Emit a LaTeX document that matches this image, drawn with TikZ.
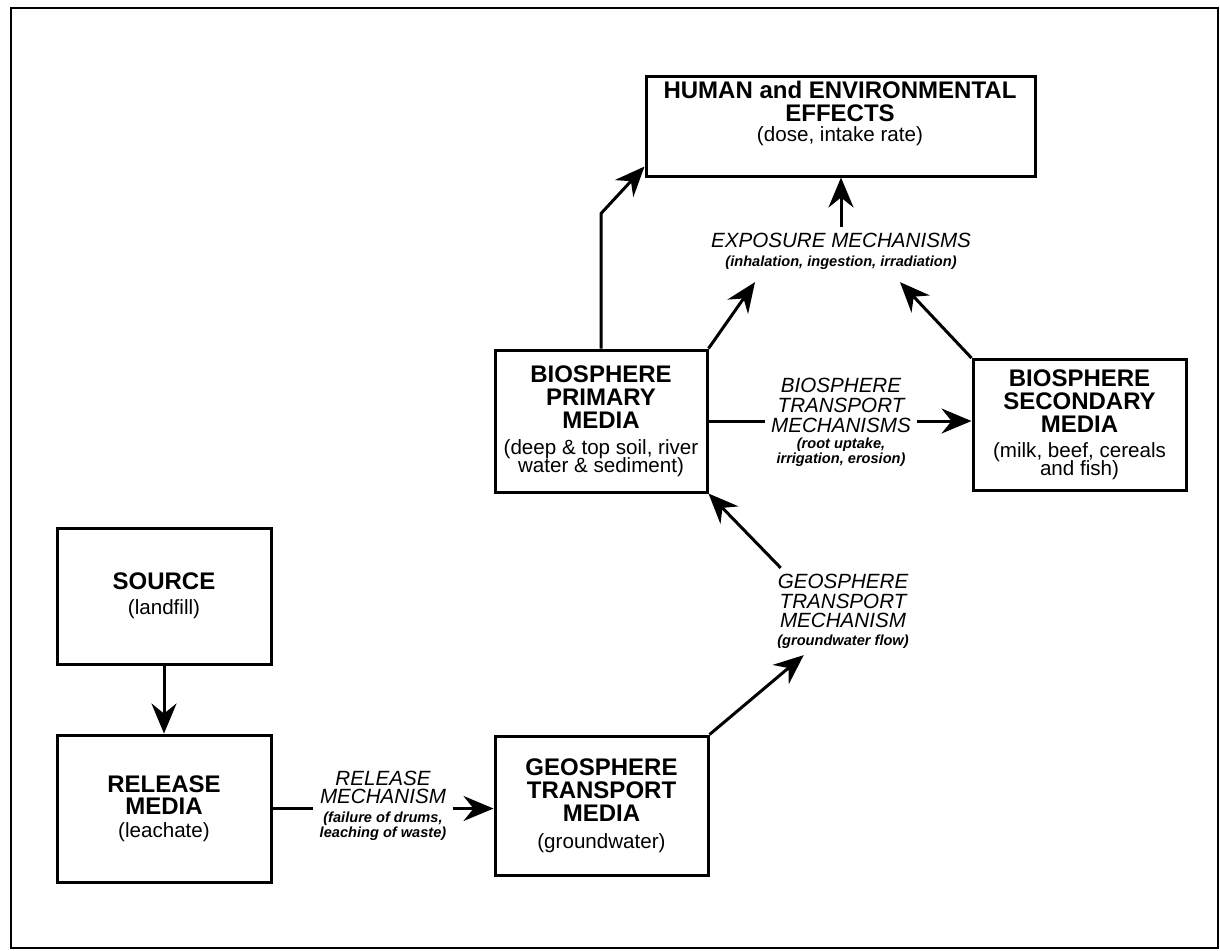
\documentclass[tikz,border=0pt]{standalone}
\usepackage{fontspec}
\setmainfont{Liberation Sans}
\usetikzlibrary{arrows.meta}

\newcommand{\boxfont}{\fontsize{10.3}{9}\selectfont\lineskiplimit=-20pt\relax}
\newcommand{\boxttl}{\fontsize{12}{12}\selectfont\bfseries}
\newcommand{\mechfont}{\fontsize{7.3}{7.5}\selectfont\bfseries\itshape\lineskiplimit=-20pt\relax}
\newcommand{\mechttl}{\fontsize{10.3}{10}\selectfont\mdseries\itshape}

\begin{document}
\begin{tikzpicture}[x=0.5pt,y=-0.5pt,
  pile/.style={line width=1.5pt, -{Stealth[length=15pt,width=12.5pt,inset=5pt]}},
  link/.style={line width=1.5pt},
  media/.style={draw, line width=1.5pt, inner sep=0pt, align=center, font=\boxfont},
  mech/.style={inner sep=3pt, align=center, font=\mechfont}]

	\useasboundingbox (0,0) rectangle (1220,950);

	% Frame
	\draw [line width=1pt] (11,8) rectangle (1218,948);

	% Media
	\node[media, minimum width=194.5pt, minimum height=50pt] (human) at (840.5,126) {};
	\node[inner sep=0pt, align=center, font=\boxfont] (humantxt) at (840,113) {{\boxttl HUMAN and ENVIRONMENTAL}\\[2.5pt]{\boxttl EFFECTS}\\[1pt](dose, intake rate)};
	\node[media, minimum width=106pt, minimum height=71pt] (primary) at (601,421) {{\boxttl BIOSPHERE}\\[2.5pt]{\boxttl PRIMARY}\\[2.5pt]{\boxttl MEDIA}\\[4pt](deep \& top soil, river\\water \& sediment)};
	\node[media, minimum width=106.5pt, minimum height=65.5pt] (secondary) at (1079.5,425) {{\boxttl BIOSPHERE}\\[2.5pt]{\boxttl SECONDARY}\\[2.5pt]{\boxttl MEDIA}\\[3.5pt](milk, beef, cereals\\and fish)};
	\node[media, minimum width=107pt, minimum height=68pt] (source) at (164,596) {{\boxttl SOURCE}\\[3.5pt](landfill)};
	\node[media, minimum width=107pt, minimum height=73.5pt] (release) at (164,808.5) {{\boxttl RELEASE}\\[2pt]{\boxttl MEDIA}\\[2.5pt](leachate)};
	\node[media, minimum width=106.5pt, minimum height=69.5pt] (geomedia) at (601.5,805.5) {{\boxttl GEOSPHERE}\\[2.5pt]{\boxttl TRANSPORT}\\[2.5pt]{\boxttl MEDIA}\\[4.5pt](groundwater)};

	% Mechanisms
	\node[mech] (exposure) at (841,251.5) {{\mechttl EXPOSURE MECHANISMS}\\[2pt](inhalation, ingestion, irradiation)};
	\node[mech] (biotrans) at (841,422.5) {{\mechttl BIOSPHERE}\\[2.5pt]{\mechttl TRANSPORT}\\[2.5pt]{\mechttl MECHANISMS}\\[0.5pt](root uptake,\\irrigation, erosion)};
	\node[mech] (geomech) at (843,611.5) {{\mechttl GEOSPHERE}\\[2.25pt]{\mechttl TRANSPORT}\\[2.25pt]{\mechttl MECHANISM}\\[1.5pt](groundwater flow)};
	\node[mech] (relmech) at (383,806) {{\mechttl RELEASE}\\[1.5pt]{\mechttl MECHANISM}\\[2pt](failure of drums,\\leaching of waste)};

	% Connectors
	\draw [pile] (source) -- (release);
	\draw [link] (release.east) -- (release.east -| relmech.west);
	\draw [pile] (relmech.east |- release.east) -- (geomedia.west |- release.east);
	\draw [pile] (geomedia.north east) -- (geomech.228);
	\draw [pile] (geomech.145) -- (primary.south east);
	\draw [link] (primary.east) -- (primary.east -| biotrans.west);
	\draw [pile] (biotrans.east |- primary.east) -- (secondary.west |- primary.east);
	\draw [pile] (primary.north east) -- ([xshift=-43pt,yshift=-3pt]exposure.south);
	\draw [pile] (secondary.north west) -- ([xshift=29.5pt,yshift=-3pt]exposure.south);
	\draw [pile] (exposure.north) -- (exposure.north |- human.south);
	\draw [pile] (primary.north) -- ++(0,-135) -- ([yshift=5.5pt]human.south west);

\end{tikzpicture}
\end{document}
